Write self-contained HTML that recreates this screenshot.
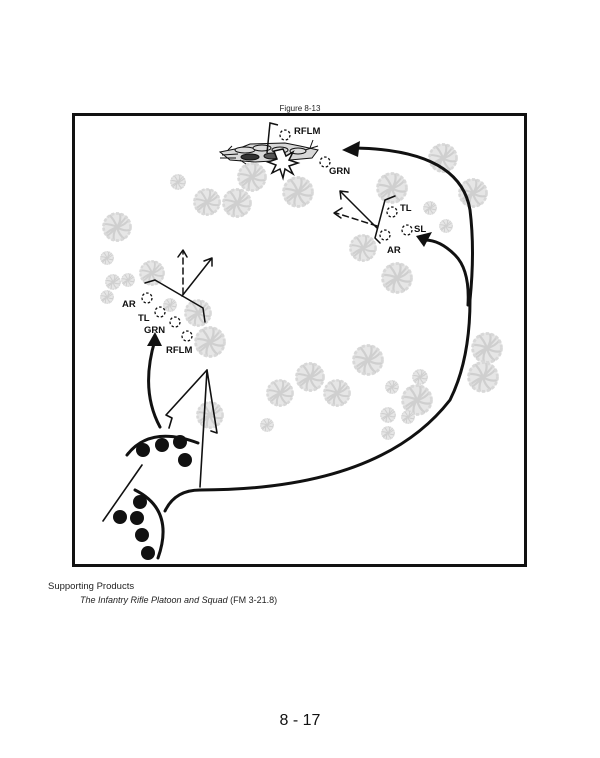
<!DOCTYPE html>
<html><head><meta charset="utf-8"><style>
body{margin:0;background:#fff;width:600px;height:758px;overflow:hidden;font-family:"Liberation Sans",sans-serif}
svg{position:absolute;left:0;top:0}
</style></head><body>
<svg width="600" height="758" viewBox="0 0 600 758" xmlns="http://www.w3.org/2000/svg">
<defs>
<symbol id="t" viewBox="-10 -10 20 20">
<circle r="9.5" fill="#e6e6e6"/>
<g stroke="#cfcfcf" stroke-width="1.4" fill="none">
<path d="M0 0 Q3 -4 2 -9 M0 0 Q5 -1 8 -5 M0 0 Q4 3 9 2 M0 0 Q1 5 5 8 M0 0 Q-3 4 -2 9 M0 0 Q-5 2 -8 5 M0 0 Q-4 -2 -9 -2 M0 0 Q-2 -5 -5 -8 M0 0 Q6 -6 6 -7 M0 0 Q-6 6 -7 6"/>
<circle r="9" stroke="#d8d8d8" stroke-width="1.8" stroke-dasharray="2 1.2"/>
</g>
</symbol>
</defs>
<text x="300" y="111" font-size="8" text-anchor="middle" fill="#222">Figure 8-13</text>
<rect x="73.5" y="114.5" width="452" height="451" fill="#fff" stroke="#111" stroke-width="3"/>
<g>
<use href="#t" x="428" y="143" width="30" height="30"/>
<use href="#t" x="458" y="178" width="30" height="30"/>
<use href="#t" x="376" y="172" width="32" height="32"/>
<use href="#t" x="423" y="201" width="14" height="14"/>
<use href="#t" x="439" y="219" width="14" height="14"/>
<use href="#t" x="349" y="234" width="28" height="28"/>
<use href="#t" x="381" y="262" width="32" height="32"/>
<use href="#t" x="237" y="162" width="30" height="30"/>
<use href="#t" x="282" y="176" width="32" height="32"/>
<use href="#t" x="193" y="188" width="28" height="28"/>
<use href="#t" x="222" y="188" width="30" height="30"/>
<use href="#t" x="170" y="174" width="16" height="16"/>
<use href="#t" x="102" y="212" width="30" height="30"/>
<use href="#t" x="100" y="251" width="14" height="14"/>
<use href="#t" x="139" y="260" width="26" height="26"/>
<use href="#t" x="105" y="274" width="16" height="16"/>
<use href="#t" x="121" y="273" width="14" height="14"/>
<use href="#t" x="100" y="290" width="14" height="14"/>
<use href="#t" x="163" y="298" width="14" height="14"/>
<use href="#t" x="184" y="299" width="28" height="28"/>
<use href="#t" x="194" y="326" width="32" height="32"/>
<use href="#t" x="196" y="401" width="28" height="28"/>
<use href="#t" x="260" y="418" width="14" height="14"/>
<use href="#t" x="266" y="379" width="28" height="28"/>
<use href="#t" x="295" y="362" width="30" height="30"/>
<use href="#t" x="323" y="379" width="28" height="28"/>
<use href="#t" x="352" y="344" width="32" height="32"/>
<use href="#t" x="385" y="380" width="14" height="14"/>
<use href="#t" x="401" y="384" width="32" height="32"/>
<use href="#t" x="412" y="369" width="16" height="16"/>
<use href="#t" x="380" y="407" width="16" height="16"/>
<use href="#t" x="401" y="410" width="14" height="14"/>
<use href="#t" x="381" y="426" width="14" height="14"/>
<use href="#t" x="471" y="332" width="32" height="32"/>
<use href="#t" x="467" y="361" width="32" height="32"/>
</g>
<!-- burning vehicle -->
<g stroke="#111" stroke-width="1" fill="#ddd">
<path d="M220 152 L240 148 L250 144 L285 143 L300 146 L318 150 L312 158 L290 160 L255 162 L230 160 Z" fill="#d8d8d8"/>
<ellipse cx="245" cy="150" rx="10" ry="3"/>
<ellipse cx="262" cy="148" rx="9" ry="3"/>
<ellipse cx="280" cy="150" rx="8" ry="3"/>
<ellipse cx="298" cy="151" rx="8" ry="3"/>
<ellipse cx="250" cy="157" rx="9" ry="3" fill="#333"/>
<ellipse cx="272" cy="156" rx="8" ry="3" fill="#555"/>
<path d="M222 155 L238 154 M220 158 L236 158 M305 150 L318 146 M310 148 L313 140 M228 150 L232 146 M240 160 L246 164"/>
</g>
<path d="M283 149 L286 156 L293 152 L289 160 L298 163 L289 166 L293 174 L285 169 L283 178 L280 169 L272 173 L276 165 L268 162 L277 159 L274 151 Z" fill="#fff" stroke="#111" stroke-width="1.5"/>
<path d="M267 153 L270 123 L278 125" fill="none" stroke="#111" stroke-width="1.5"/>
<g fill="none" stroke="#111" stroke-width="1.3" stroke-dasharray="2.5 2">
<circle cx="285" cy="135" r="5"/><circle cx="325" cy="162" r="5"/>
<circle cx="392" cy="212" r="5"/><circle cx="385" cy="235" r="5"/><circle cx="407" cy="230" r="5"/>
<circle cx="147" cy="298" r="5"/><circle cx="160" cy="312" r="5"/><circle cx="175" cy="322" r="5"/><circle cx="187" cy="336" r="5"/>
</g>
<g font-size="9.5" font-weight="bold" fill="#111">
<text x="294" y="134">RFLM</text><text x="329" y="174">GRN</text>
<text x="400" y="211">TL</text><text x="387" y="253">AR</text><text x="414" y="232">SL</text>
<text x="122" y="307">AR</text><text x="138" y="321">TL</text><text x="144" y="333">GRN</text><text x="166" y="353">RFLM</text>
</g>
<g fill="none" stroke="#111" stroke-linecap="round" stroke-linejoin="round">
<path d="M385 200 L395 196 M385 200 L375 238 L380 243" stroke-width="1.5"/>
<path d="M377 228 L340 191 M340 191 L341 199 M340 191 L348 192" stroke-width="1.5"/>
<path d="M377 226 L336 213" stroke-width="1.5" stroke-dasharray="6 4"/>
<path d="M342 208 L334 213 L341 218" stroke-width="1.5"/>
<path d="M145 283 L155 280 L203 308 L205 322" stroke-width="1.5"/>
<path d="M182 296 L212 258 M212 258 L204 261 M212 258 L212 266" stroke-width="1.5"/>
<path d="M183 294 L183 252" stroke-width="1.5" stroke-dasharray="6 4"/>
<path d="M178 257 L183 250 L187 257" stroke-width="1.5"/>
<path d="M127 455 Q150 425 198 443" stroke-width="3"/>
<path d="M135 490 Q175 510 158 558" stroke-width="3"/>
<path d="M103 521 L142 465" stroke-width="1.6"/>
<path d="M200 487 L207 370 L217 433 L211 431" stroke-width="1.6"/>
<path d="M207 370 L166 415 L172 418 L169 428" stroke-width="1.6"/>
<path d="M160 427 Q140 390 155 340" stroke-width="3"/>
<path d="M165 511 Q175 490 200 490 Q380 490 450 400 Q470 360 470 300 Q475 250 470 210 Q460 150 355 148" stroke-width="3"/>
<path d="M468 305 Q470 270 455 255 Q440 240 425 240" stroke-width="3"/>
</g>
<g fill="#111">
<path d="M155 332 L147 346 L162 346 Z"/>
<path d="M342 150 L360 141 L358 157 Z"/>
<path d="M416 236 L432 232 L424 247 Z"/>
<circle cx="143" cy="450" r="7"/><circle cx="162" cy="445" r="7"/><circle cx="180" cy="442" r="7"/><circle cx="185" cy="460" r="7"/>
<circle cx="140" cy="502" r="7"/><circle cx="120" cy="517" r="7"/><circle cx="137" cy="518" r="7"/><circle cx="142" cy="535" r="7"/><circle cx="148" cy="553" r="7"/>
</g>
</svg>
<div style="position:absolute;left:48px;top:581px;font-size:9.5px;color:#222">Supporting Products</div>
<div style="position:absolute;left:80px;top:595px;font-size:9px;color:#222"><i>The Infantry Rifle Platoon and Squad</i> (FM 3-21.8)</div>
<div style="position:absolute;left:0;width:600px;top:712px;text-align:center;font-size:16px;color:#111">8 - 17</div>
</body></html>
